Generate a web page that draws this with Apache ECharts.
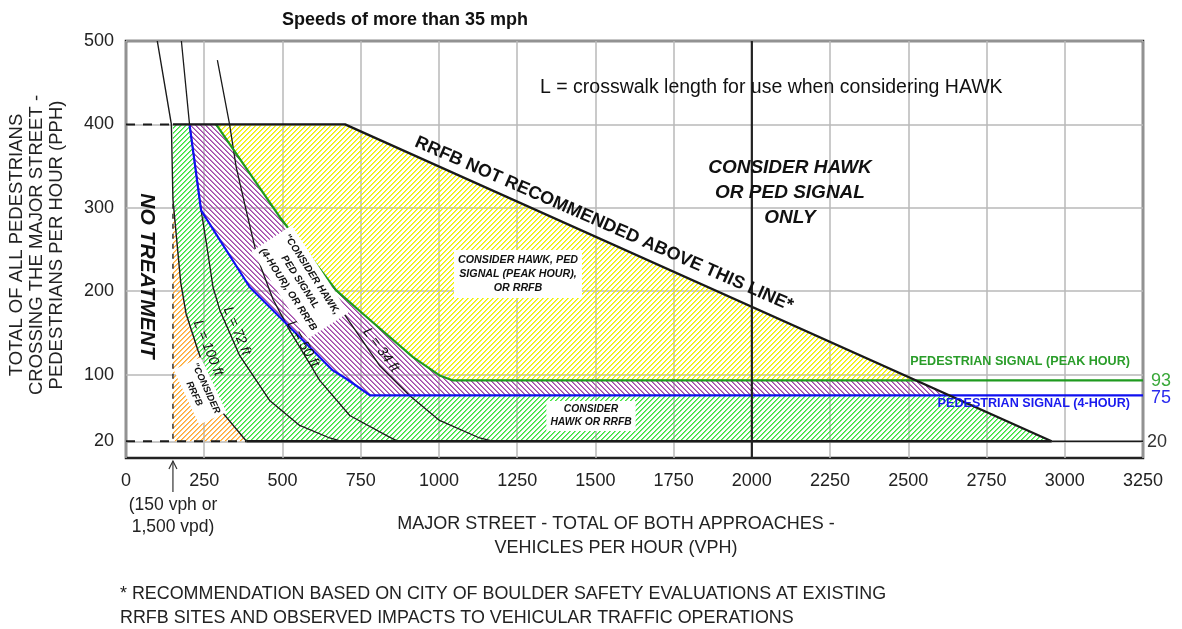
<!DOCTYPE html>
<html><head><meta charset="utf-8">
<script src="https://cdn.jsdelivr.net/npm/echarts@6/dist/echarts.min.js"></script>
<style>html,body{margin:0;padding:0;background:#fff}#c{width:1182px;height:629px}</style>
</head><body><div id="c"></div>
<script>
// ---------- data ----------
const xMax = 3250;
const yMax = 500;
const xTickStep = 250;
const yTickStep = 100;
const yLabelValues = [20, 100, 200, 300, 400, 500];
const peakHourLevel = 93;   // PEDESTRIAN SIGNAL (PEAK HOUR)
const fourHourLevel = 75;   // PEDESTRIAN SIGNAL (4-HOUR)
const minLevel = 20;
const maxLevel = 400;
const thresholdVph = 150;   // 150 vph or 1,500 vpd
const boundaryVph = 2000;   // CONSIDER HAWK OR PED SIGNAL ONLY boundary
const rrfbBoundary = [[150, 400], [700, 400], [2958, 20]];
const pedPeakHour = [[288, 400], [491, 289], [672, 201], [757, 173], [917, 121], [1002, 99], [1045, 93], [3250, 93]];
const ped4Hour = [[203, 400], [240, 297], [395, 205], [491, 169], [555, 145], [661, 105], [704, 95], [780, 75], [3250, 75]];
const curveL100 = [[100, 500], [145, 400], [150, 310], [175, 210], [192, 173], [230, 129], [294, 61], [385, 20]];
const curveL72 = [[177, 500], [203, 400], [240, 297], [258, 255], [278, 205], [300, 177], [363, 123], [459, 69], [555, 39], [651, 24], [690, 20]];
const curveL50 = [[292, 477], [331, 400], [352, 349], [384, 297], [420, 240], [470, 190], [523, 153], [619, 93], [715, 51], [842, 25], [870, 20]];
const curveL34 = [[693, 175], [810, 111], [906, 75], [1002, 45], [1130, 24], [1175, 20]];

// ---------- derived region polygons ----------
const xOnDiagonal = y => rrfbBoundary[1][0] + (rrfbBoundary[1][1] - y) / (rrfbBoundary[1][1] - rrfbBoundary[2][1]) * (rrfbBoundary[2][0] - rrfbBoundary[1][0]);
const x93 = xOnDiagonal(peakHourLevel), x75 = xOnDiagonal(fourHourLevel);
const peakCut = pedPeakHour.filter(p => p[0] < x93).concat([[x93, peakHourLevel]]);
const fourCut = ped4Hour.filter(p => p[0] < x75).concat([[x75, fourHourLevel]]);
const l100Lower = curveL100.filter(p => p[0] >= thresholdVph);
const yellowRegion = [...peakCut, rrfbBoundary[1]];
const purpleRegion = [...fourCut, ...peakCut.slice().reverse()];
const greenRegion = [[thresholdVph, maxLevel], ...fourCut, rrfbBoundary[2], ...l100Lower.slice().reverse()];
const orangeRegion = [...l100Lower, [thresholdVph, minLevel]];

function hatch(rgb, dir) {
  const p = 5, c = document.createElement('canvas');
  c.width = p; c.height = p;
  const ctx = c.getContext('2d');
  const img = ctx.createImageData(p, p);
  for (let j = 0; j < p; j++) for (let i = 0; i < p; i++) {
    const k = dir > 0 ? (i + j) % p : (i - j + p) % p;
    const a = k === 0 ? 255 : (k === 1 ? 170 : 0);
    const o = (j * p + i) * 4;
    img.data[o] = rgb[0]; img.data[o + 1] = rgb[1]; img.data[o + 2] = rgb[2]; img.data[o + 3] = a;
  }
  ctx.putImageData(img, 0, 0);
  return { image: c, repeat: 'repeat' };
}

function region(pts, fill) {
  return {
    type: 'custom', coordinateSystem: 'cartesian2d', silent: true, z: 1, clip: true,
    data: [pts[0]],
    renderItem: (params, api) => ({
      type: 'polygon',
      shape: { points: pts.map(p => api.coord(p)) },
      style: { fill: fill, stroke: null }
    })
  };
}
function line(data, color, width, z, opts) {
  return Object.assign({
    type: 'line', data: data, symbol: 'none', silent: true, z: z, animation: false,
    lineStyle: { color: color, width: width }
  }, opts || {});
}

const chart = echarts.init(document.getElementById('c'));
const FF = '"Liberation Sans", Arial, sans-serif';
const black = '#1a1a1a';
const option = {
  animation: false,
  grid: { left: 126, right: 39, top: 41, bottom: 171, show: true, borderColor: '#222', borderWidth: 2.5 },
  xAxis: {
    type: 'value', min: 0, max: xMax, interval: xTickStep,
    axisLine: { show: false }, axisTick: { show: false },
    axisLabel: { fontSize: 18, color: '#222', margin: 14, fontFamily: FF, formatter: v => String(v) },
    splitLine: { lineStyle: { color: '#b8b8b8', width: 1.5 } }
  },
  yAxis: {
    type: 'value', min: 0, max: yMax, interval: yTickStep,
    axisLine: { show: false }, axisTick: { show: false, customValues: yLabelValues },
    axisLabel: { fontSize: 18, color: '#222', margin: 12, fontFamily: FF, customValues: yLabelValues, formatter: v => String(v) },
    splitLine: { lineStyle: { color: '#b8b8b8', width: 1.5 } }
  },
  series: [
    region(yellowRegion, hatch([240, 240, 0], 1)),
    region(purpleRegion, hatch([160, 70, 170], -1)),
    region(greenRegion, hatch([60, 228, 60], 1)),
    region(orangeRegion, hatch([255, 170, 50], 1)),
    line(curveL100, black, 1.4, 3),
    line(curveL72, black, 1.3, 3),
    line(curveL50, black, 1.3, 3),
    line(curveL34, black, 1.3, 3),
    line([[thresholdVph, 305], [thresholdVph, minLevel]], '#333', 1.5, 3, { lineStyle: { color: '#333', width: 1.5, type: [5, 5] } }),
    line([[0, maxLevel], rrfbBoundary[0]], black, 2, 5, { lineStyle: { color: black, width: 2, type: [9, 8] } }),
    line([[0, minLevel], [curveL100[curveL100.length - 1][0], minLevel]], black, 2, 5, { lineStyle: { color: black, width: 2, type: [9, 8] } }),
    line([[curveL100[curveL100.length - 1][0], minLevel], rrfbBoundary[2]], black, 2.5, 5),
    line([rrfbBoundary[2], [xMax, minLevel]], black, 1.5, 5),
    line(pedPeakHour, '#1f9a1f', 2.2, 4),
    line(ped4Hour, '#1010f0', 2.2, 4),
    line(rrfbBoundary, black, 2.3, 5),
    line([[boundaryVph, 0], [boundaryVph, yMax]], '#222', 2.2, 5)
  ]
};
chart.setOption(option);

const px = (x, y) => chart.convertToPixel({ gridIndex: 0 }, [x, y]);
function T(x, y, text, font, extra) {
  return Object.assign({ type: 'text', x: x, y: y, z: 100, silent: true,
    style: Object.assign({ text: text, font: font, fill: '#111', align: 'center', verticalAlign: 'middle' }, (extra && extra.style) || {}) },
    extra ? { rotation: extra.rotation || 0 } : {});
}
const deg = d => d * Math.PI / 180;
const rx = px(xMax, 0)[0];
const arrowX = px(thresholdVph, 0)[0];
const axisY = px(0, 0)[1];
const graphics = [
  T(405, 20, 'Speeds of more than 35 mph', 'bold 18px ' + FF),
  T(540, 88, 'L = crosswalk length for use when considering HAWK', '19.5px ' + FF, { style: { align: 'left' } }),
  T(790, 193, 'CONSIDER HAWK\nOR PED SIGNAL\nONLY', 'italic bold 19px ' + FF, { style: { lineHeight: 25 } }),
  T(604, 224, 'RRFB NOT RECOMMENDED ABOVE THIS LINE*', 'bold 18px ' + FF, { rotation: deg(-23.7) }),
  T(518, 274, 'CONSIDER HAWK, PED\nSIGNAL (PEAK HOUR),\nOR RRFB', 'italic bold 10.7px ' + FF, { style: { lineHeight: 14, backgroundColor: '#fff', padding: [3, 4] } }),
  T(591, 416, 'CONSIDER\nHAWK OR RRFB', 'italic bold 10.3px ' + FF, { style: { lineHeight: 13, backgroundColor: '#fff', padding: [2, 4] } }),
  T(300, 282, '"CONSIDER HAWK,\nPED SIGNAL\n(4-HOUR), OR RRFB', 'italic bold 10px ' + FF, { rotation: deg(-57), style: { lineHeight: 14, backgroundColor: '#fff', padding: [3, 4] } }),
  T(147, 276, 'NO TREATMENT', 'italic bold 21px ' + FF, { rotation: deg(-90) }),
  T(200, 391, '"CONSIDER\nRRFB', 'italic bold 9.5px ' + FF, { rotation: deg(-65), style: { lineHeight: 13, backgroundColor: '#fff', padding: [2, 3] } }),
  T(208, 348, 'L = 100 ft', 'italic 14px ' + FF, { rotation: deg(-68) }),
  T(237, 331, 'L = 72 ft', 'italic 14px ' + FF, { rotation: deg(-67) }),
  T(303, 344, 'L = 50 ft', 'italic 14px ' + FF, { rotation: deg(-60) }),
  T(381, 350, 'L = 34 ft', 'italic 14px ' + FF, { rotation: deg(-54) }),
  T(1130, 362, 'PEDESTRIAN SIGNAL (PEAK HOUR)', 'bold 12.6px ' + FF, { style: { align: 'right', fill: '#2a9d2a' } }),
  T(1130, 404, 'PEDESTRIAN SIGNAL (4-HOUR)', 'bold 12.6px ' + FF, { style: { align: 'right', fill: '#1a1aee' } }),
  T(rx + 8, px(0, peakHourLevel)[1] + 1, String(peakHourLevel), '18px ' + FF, { style: { align: 'left', fill: '#3aa83a' } }),
  T(rx + 8, px(0, fourHourLevel)[1] + 3, String(fourHourLevel), '18px ' + FF, { style: { align: 'left', fill: '#2a2aee' } }),
  T(rx + 4, px(0, minLevel)[1] + 1, String(minLevel), '18px ' + FF, { style: { align: 'left', fill: '#333' } }),
  T(37, 245, 'TOTAL OF ALL PEDESTRIANS\nCROSSING THE MAJOR STREET -\nPEDESTRIANS PER HOUR (PPH)', '18.5px ' + FF, { rotation: deg(90), style: { lineHeight: 20, fill: '#222' } }),
  T(173, 516, '(150 vph or\n1,500 vpd)', '17.5px ' + FF, { style: { lineHeight: 22, fill: '#222' } }),
  T(616, 536, 'MAJOR STREET - TOTAL OF BOTH APPROACHES -\nVEHICLES PER HOUR (VPH)', '18px ' + FF, { style: { lineHeight: 24, fill: '#222' } }),
  T(120, 606, '* RECOMMENDATION BASED ON CITY OF BOULDER SAFETY EVALUATIONS AT EXISTING\nRRFB SITES AND OBSERVED IMPACTS TO VEHICULAR TRAFFIC OPERATIONS', '17.9px ' + FF, { style: { align: 'left', lineHeight: 24, fill: '#222' } }),
  { type: 'polyline', z: 100, silent: true, shape: { points: [[arrowX, axisY + 34], [arrowX, axisY + 3]] }, style: { stroke: '#333', lineWidth: 1.2 } },
  { type: 'polyline', z: 100, silent: true, shape: { points: [[arrowX - 4, axisY + 11], [arrowX, axisY + 3], [arrowX + 4, axisY + 11]] }, style: { stroke: '#333', lineWidth: 1.2, fill: null } }
];
chart.setOption({ graphic: { elements: graphics } });
</script>
</body></html>
